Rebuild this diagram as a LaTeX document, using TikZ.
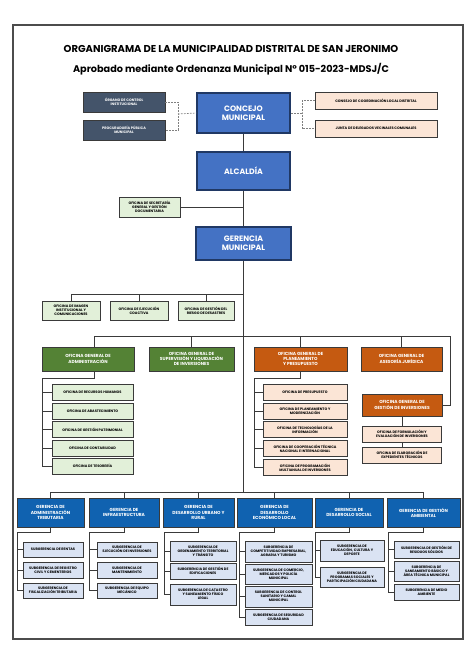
\documentclass[tikz,border=0pt]{standalone}
\usepackage{fontspec}
\setmainfont{Poppins}
\definecolor{slate}{HTML}{44546A}
\definecolor{mainblue}{HTML}{4472C4}
\definecolor{mainedge}{HTML}{203864}
\definecolor{peach}{HTML}{FBE5D6}
\definecolor{palegreen}{HTML}{E2F0D9}
\definecolor{darkgreen}{HTML}{548235}
\definecolor{rust}{HTML}{C55A11}
\definecolor{gerblue}{HTML}{1062B0}
\definecolor{paleblue}{HTML}{DAE3F3}
\definecolor{edge}{HTML}{3A3A3A}
\newcommand\orgtitle{\fontsize{10}{12}\selectfont\bfseries}
\newcommand\orgsub{\fontsize{9.7}{11}\selectfont\bfseries}
\newcommand\orgbig{\fontsize{7.8}{9.4}\selectfont\bfseries}
\newcommand\orgmid{\fontsize{4.4}{5.3}\selectfont\bfseries}
\newcommand\orgsmall{\fontsize{3.5}{4.2}\selectfont\bfseries}
\begin{document}
\begin{tikzpicture}[x=1pt, y=-1pt,
  box/.style 2 args={draw=edge, line width=0.9pt, minimum width=#1, minimum height=#2, inner sep=0.3pt, align=center, font=\orgsmall},
  topbox/.style={fill=mainblue, draw=mainedge, line width=1.3pt, text=white, font=\orgbig},
  slatebox/.style={fill=slate, text=white},
  peachbox/.style={fill=peach},
  greenbox/.style={fill=palegreen},
  dgreenbox/.style={fill=darkgreen, text=white, font=\orgmid},
  rustbox/.style={fill=rust, text=white, font=\orgmid},
  gerbox/.style={fill=gerblue, text=white, font=\orgmid},
  subbox/.style={fill=paleblue},
  ln/.style={draw=edge, line width=0.9pt},
  dotline/.style={draw=gray, line width=0.7pt, dash pattern=on 1.6pt off 1.4pt}]
\useasboundingbox (0,0) rectangle (474,670);
\draw[draw=black!70, line width=1.1pt] (13,25) rectangle (463,639);
\node[font=\orgtitle] (title) at (231,49) {ORGANIGRAMA DE LA MUNICIPALIDAD DISTRITAL DE SAN JERONIMO};
\node[font=\orgsub] (subtitle) at (231,69) {Aprobado mediante Ordenanza Municipal N° 015-2023-MDSJ/C};
% alta direccion
\node[box={82}{20}, slatebox] (oci) at (124,102) {ÓRGANO DE CONTROL\\INSTITUCIONAL};
\node[box={82}{20}, slatebox] (proc) at (124,130) {PROCURADURÍA PÚBLICA\\MUNICIPAL};
\node[box={93}{40}, topbox] (concejo) at (243.5,113) {CONCEJO\\MUNICIPAL};
\node[box={122}{17}, peachbox] (ccl) at (376,100.5) {CONSEJO DE COORDINACIÓN LOCAL DISTRITAL};
\node[box={122}{17}, peachbox] (jdv) at (376,128.5) {JUNTA DE DELEGADOS VECINALES COMUNALES};
\node[box={93}{38}, topbox] (alc) at (243.5,171) {ALCALDÍA};
\node[box={61}{20}, greenbox] (sgd) at (149.5,207) {OFICINA DE SECRETARÍA\\GENERAL Y GESTIÓN\\DOCUMENTARIA};
\node[box={95}{33}, topbox] (gm) at (243.5,243.5) {GERENCIA\\MUNICIPAL};
\coordinate (dl) at (178,114); \coordinate (dr) at (302,113);
\draw[dotline] (oci.east) -| (dl) |- (proc.east); \draw[dotline] (dl) -- (concejo.west);
\draw[dotline] (ccl.west) -| (dr) |- (jdv.west); \draw[dotline] (dr) -- (concejo.east);
\draw[ln] (concejo) -- (alc); \draw[ln] (alc) -- (gm); \draw[ln] (sgd.east) -- (sgd.east -| alc.south);
% eje central
\coordinate (s1) at (243.5,294); \coordinate (s2) at (243.5,336); \coordinate (s3) at (243.5,492);
\draw[ln] (gm) -- (s3);
\node[box={58}{19}, greenbox] (imi) at (71,310.5) {OFICINA DE IMAGEN\\INSTITUCIONAL Y\\COMUNICACIONES};
\node[box={58}{19}, greenbox] (ejc) at (139,310.5) {OFICINA DE EJECUCIÓN\\COACTIVA};
\node[box={56}{19}, greenbox] (grd) at (206,310.5) {OFICINA DE GESTIÓN DEL\\RIESGO DE DESASTRES};
\foreach \n in {imi,ejc,grd} \draw[ln] (\n.north) |- (s1);
% oficinas generales
\node[box={92}{24}, dgreenbox] (oga) at (88,359) {OFICINA GENERAL DE\\ADMINISTRACIÓN};
\node[box={85}{24}, dgreenbox] (ogs) at (191.5,359) {OFICINA GENERAL DE\\SUPERVISIÓN Y LIQUIDACIÓN\\DE INVERSIONES};
\node[box={93}{24}, rustbox] (ogp) at (300.5,359) {OFICINA GENERAL DE\\PLANEAMIENTO\\Y PRESUPUESTO};
\node[box={81}{24}, rustbox] (oaj) at (401.5,359) {OFICINA GENERAL DE\\ASESORÍA JURÍDICA};
\node[box={80}{22}, rustbox] (ogi) at (402,405) {OFICINA GENERAL DE\\GESTIÓN DE INVERSIONES};
\coordinate (gi) at (450,336);
\foreach \n in {ogs,ogp,oaj} \draw[ln] (\n.north) |- (s2);
\draw[ln] ([xshift=6pt]oga.north) |- (s2);
\draw[ln] (s2) -- (gi) |- (ogi.east);
\coordinate (a0) at (42,378); \draw[ln] ([xshift=6pt]oga.south) |- (a0);
\foreach \n/\y/\t in {a1/392.5/OFICINA DE RECURSOS HUMANOS, a2/411/OFICINA DE ABASTECIMIENTO, a3/429.5/OFICINA DE GESTIÓN PATRIMONIAL, a4/448.5/OFICINA DE CONTABILIDAD, a5/466/OFICINA DE TESORERÍA}
  {\node[box={81}{16}, greenbox] (\n) at (92.5,\y) {\t}; \draw[ln] (a0) |- (\n.west);}
\coordinate (p0) at (254,378); \draw[ln] (ogp.south) |- (p0);
\foreach \n/\y/\t in {p1/392.5/OFICINA DE PRESUPUESTO, p2/411.5/{OFICINA DE PLANEAMIENTO Y\\MODERNIZACIÓN}, p3/429.5/{OFICINA DE TECNOLOGÍAS DE LA\\INFORMACIÓN}, p4/448.5/{OFICINA DE COOPERACIÓN TÉCNICA\\NACIONAL E INTERNACIONAL}, p5/467.5/{OFICINA DE PROGRAMACIÓN\\MULTIANUAL DE INVERSIONES}}
  {\node[box={84}{16}, peachbox] (\n) at (305,\y) {\t}; \draw[ln] (p0) |- (\n.west);}
\node[box={79}{16}, peachbox] (gi1) at (402,434) {OFICINA DE FORMULACIÓN Y\\EVALUACIÓN DE INVERSIONES};
\node[box={79}{16}, peachbox] (gi2) at (402,455) {OFICINA DE ELABORACIÓN DE\\EXPEDIENTES TÉCNICOS};
\draw[ln] (ogi) -- (gi1); \draw[ln] (gi1) -- (gi2);
% gerencias de linea
\foreach \n/\x/\w/\t in {g1/50.5/67/{GERENCIA DE\\ADMINISTRACIÓN\\TRIBUTARIA}, g2/124/70/{GERENCIA DE\\INFRAESTRUCTURA}, g3/198.5/71/{GERENCIA DE\\DESARROLLO URBANO Y\\RURAL}, g4/274.5/75/{GERENCIA DE\\DESARROLLO\\ECONÓMICO LOCAL}, g5/349/68/{GERENCIA DE\\DESARROLLO SOCIAL}, g6/423.5/73/{GERENCIA DE GESTIÓN\\AMBIENTAL}}
  {\node[box={\w}{29}, gerbox] (\n) at (\x,512.5) {\t}; \draw[ln] (\n.north) |- (s3);}
\foreach \g/\x in {g1/17, g2/89, g3/164, g4/239, g5/315, g6/388} {\coordinate (\g0) at (\x,532); \draw[ln] (\g.south) |- (\g0);}
\foreach \n/\y/\h/\t in {r1/549.5/15/SUBGERENCIA DE RENTAS, r2/570/16/{SUBGERENCIA DE REGISTRO\\CIVIL Y CEMENTERIOS}, r3/590.5/15/{SUBGERENCIA DE\\FISCALIZACIÓN TRIBUTARIA}}
  {\node[box={60}{\h}, subbox] (\n) at (53,\y) {\t}; \draw[ln] (g10) |- (\n.west);}
\foreach \n/\y/\h/\t in {i1/549.5/15/{SUBGERENCIA DE\\EJECUCIÓN DE INVERSIONES}, i2/570/16/{SUBGERENCIA DE\\MANTENIMIENTO}, i3/590.5/15/{SUBGERENCIA DE EQUIPO\\MECÁNICO}}
  {\node[box={60}{\h}, subbox] (\n) at (127,\y) {\t}; \draw[ln] (g20) |- (\n.west);}
\foreach \n/\y/\h/\t in {u1/551/20/{SUBGERENCIA DE\\ORDENAMIENTO TERRITORIAL\\Y TRÁNSITO}, u2/571/16/{SUBGERENCIA DE GESTIÓN DE\\EDIFICACIONES}, u3/594.5/21/{SUBGERENCIA DE CATASTRO\\Y SANEAMIENTO FÍSICO\\LEGAL}}
  {\node[box={66}{\h}, subbox] (\n) at (203,\y) {\t}; \draw[ln] (g30) |- (\n.west);}
\foreach \n/\y/\h/\t in {e1/551.5/21/{SUBGERENCIA DE\\COMPETITIVIDAD EMPRESARIAL,\\AGRARIA Y TURISMO}, e2/574/20/{SUBGERENCIA DE COMERCIO,\\MERCADOS Y POLICÍA\\MUNICIPAL}, e3/596.5/21/{SUBGERENCIA DE CONTROL\\SANITARIO Y CAMAL\\MUNICIPAL}, e4/617/16/{SUBGERENCIA DE SEGURIDAD\\CIUDADANA}}
  {\node[box={67}{\h}, subbox] (\n) at (278.5,\y) {\t}; \draw[ln] (g40) |- (\n.west);}
\foreach \n/\y/\h/\t in {d1/550.5/21/{SUBGERENCIA DE\\EDUCACIÓN, CULTURA Y\\DEPORTE}, d2/577/20/{SUBGERENCIA DE\\PROGRAMAS SOCIALES Y\\PARTICIPACIÓN CIUDADANA}}
  {\node[box={64}{\h}, subbox] (\n) at (352,\y) {\t}; \draw[ln] (g50) |- (\n.west);}
\foreach \n/\y/\h/\t in {m1/549.5/17/{SUBGERENCIA DE GESTIÓN DE\\RESIDUOS SÓLIDOS}, m2/571/20/{SUBGERENCIA DE\\SANEAMIENTO BÁSICO Y\\ÁREA TÉCNICA MUNICIPAL}, m3/592/16/{SUBGERENCIA DE MEDIO\\AMBIENTE}}
  {\node[box={65}{\h}, subbox] (\n) at (426.5,\y) {\t}; \draw[ln] (g60) |- (\n.west);}
\end{tikzpicture}
\end{document}
